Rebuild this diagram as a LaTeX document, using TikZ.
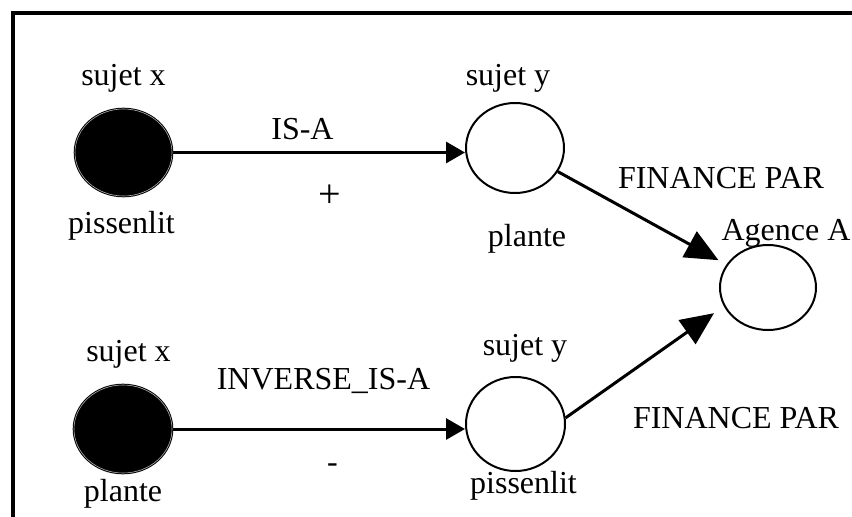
\documentclass[tikz,border=0pt]{standalone}
\usepackage{fontspec}
\setmainfont{Liberation Serif}
\usetikzlibrary{shapes.geometric,arrows.meta}
\begin{document}
\begin{tikzpicture}[x=1pt,y=-1pt,
  lbl/.style={anchor=base,inner sep=0pt,font=\fontsize{32}{38}\selectfont},
  blackdot/.style={ellipse,draw=black,fill=black,line width=1pt,double=white!70!black,double distance=0.6pt,inner sep=0pt},
  whitedot/.style={ellipse,draw=black,line width=2pt,inner sep=0pt},
  flatarrow/.style={line width=3pt,-{Triangle[length=19pt,width=21pt]}},
  slantarrow/.style={line width=3pt,-{Triangle[length=33pt,width=29pt]}}]
\useasboundingbox (0,0) rectangle (852,517);
% frame
\draw[line width=4pt] (852,12.5) -- (12.5,12.5) -- (12.5,517);
% nodes
\node[blackdot,minimum width=97,minimum height=87] (x1) at (123.5,152.5) {};
\node[whitedot,minimum width=98,minimum height=90] (y1) at (515,148) {};
\node[whitedot,minimum width=96,minimum height=85] (ag) at (768,287.5) {};
\node[blackdot,minimum width=98,minimum height=88] (x2) at (123,429) {};
\node[whitedot,minimum width=99,minimum height=94] (y2) at (515.5,424) {};
% connectors
\draw[flatarrow] (x1.east) -- (x1.east -| y1.west);
\draw[flatarrow] (x2.east) -- (x2.east -| y2.west);
\draw[slantarrow,shorten >=9pt] (y1) -- (ag);
\draw[slantarrow,shorten >=12pt] (y2.7) -- (ag.203);
% labels
\node[lbl] (sx1) at (123.5,85) {sujet x};
\node[lbl] (px1) at (121.5,233) {pissenlit};
\node[lbl] (isa) at (302.5,139) {IS-A};
\node[lbl,font=\fontsize{40}{48}\selectfont] (plus) at (329.5,207) {+};
\node[lbl] (sy1) at (508,85) {sujet y};
\node[lbl] (pl1) at (527,246) {plante};
\node[lbl] (fp1) at (721,188) {FINANCE PAR};
\node[lbl] (agA) at (786,240) {Agence A};
\node[lbl] (sx2) at (128.5,361) {sujet x};
\node[lbl] (pl2) at (123,501) {plante};
\node[lbl] (inv) at (323.5,389) {INVERSE\_IS-A};
\node[lbl] (minus) at (332.5,472) {-};
\node[lbl] (sy2) at (525,355) {sujet y};
\node[lbl] (pi2) at (523.5,493) {pissenlit};
\node[lbl] (fp2) at (736,428) {FINANCE PAR};
\end{tikzpicture}
\end{document}
